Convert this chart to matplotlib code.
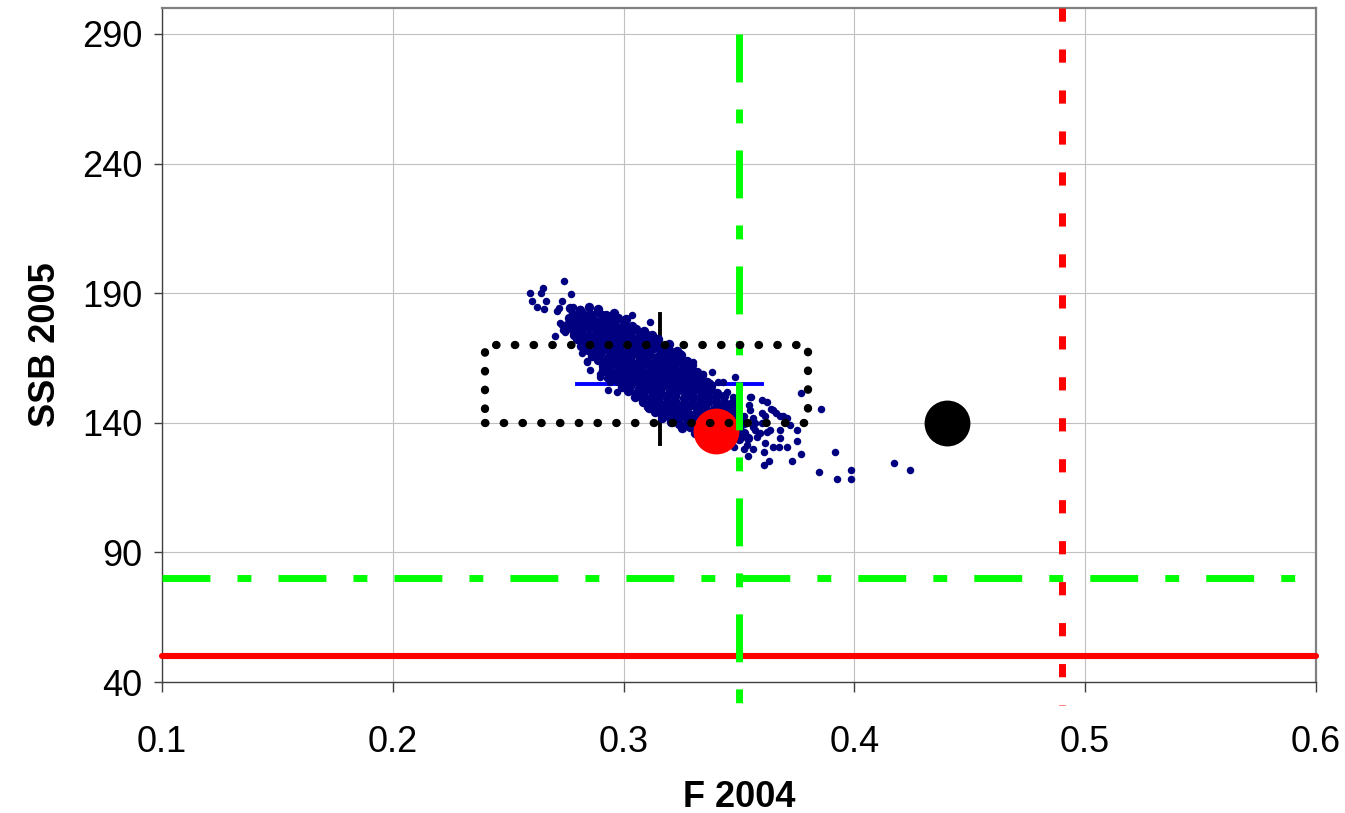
import matplotlib
matplotlib.use("Agg")
import matplotlib.pyplot as plt

plt.rcParams['font.family'] = ['Liberation Sans', 'DejaVu Sans']

# reference points / limits
blim = 50
bpa = 80
fpa = 0.35
flim = 0.49

# box (dotted) limits
box_f = [0.24, 0.38]
box_ssb = [140, 170]

# central estimates
median_f = 0.316
median_ssb = 155
f_range = [0.28, 0.36]
ssb_range = [132, 182]

assess_f, assess_ssb = 0.34, 137      # red dot
prev_f, prev_ssb = 0.44, 140          # black dot

x_ticks = [0.1, 0.2, 0.3, 0.4, 0.5, 0.6]
y_ticks = [40, 90, 140, 190, 240, 290]

# bootstrap cloud (F 2004, SSB 2005)
# scattered points round the edge
boot_tail = [
    (0.2742, 194.5), (0.2594, 190.2), (0.2650, 191.8), (0.2642, 190.2), (0.2772, 189.5),
    (0.2603, 186.8), (0.2664, 186.8), (0.2625, 184.8), (0.2655, 184.0), (0.2733, 186.8),
    (0.2720, 184.4), (0.2711, 183.3), (0.2781, 184.8), (0.2776, 182.5), (0.2811, 183.7),
    (0.2733, 177.9), (0.2703, 173.3), (0.2746, 174.9), (0.2780, 181.4), (0.2824, 182.0),
    (0.2724, 178.3), (0.2737, 175.6), (0.2820, 167.1), (0.2841, 164.0), (0.2854, 160.2),
    (0.2898, 157.5), (0.2919, 159.4), (0.2906, 182.1), (0.2958, 179.4), (0.3037, 181.7),
    (0.3028, 176.7), (0.3114, 178.7), (0.3093, 172.5), (0.3136, 171.7), (0.3166, 164.8),
    (0.2976, 174.8), (0.3227, 163.7), (0.3227, 167.5), (0.2906, 160.2), (0.2928, 157.1),
    (0.2941, 155.6), (0.2841, 163.3), (0.2898, 159.0), (0.2932, 152.5), (0.2971, 151.7),
    (0.3080, 148.6), (0.3101, 145.9), (0.3149, 144.8), (0.3158, 146.7), (0.3201, 142.9),
    (0.3214, 142.1), (0.3244, 167.1), (0.3301, 163.3), (0.3344, 159.0), (0.3383, 159.4),
    (0.3374, 155.2), (0.3409, 155.6), (0.3431, 155.6), (0.3483, 157.5), (0.3396, 151.7),
    (0.3448, 151.7), (0.3474, 149.8), (0.3491, 148.6),
    (0.3548, 149.8), (0.3600, 148.6), (0.3548, 144.8), (0.3600, 143.6), (0.3647, 144.8), (0.3678, 142.8),
    (0.3699, 141.7), (0.3721, 139.0), (0.3751, 137.1), (0.3678, 137.1), (0.3634, 137.1), (0.3561, 138.2),
    (0.3591, 135.9), (0.3530, 134.8), (0.3769, 151.3), (0.3855, 145.2), (0.3552, 149.8), (0.3621, 147.9),
    (0.3543, 146.7), (0.3639, 145.5), (0.3660, 143.6), (0.3691, 142.8), (0.3522, 142.8), (0.3561, 142.0),
    (0.3613, 142.5), (0.3708, 141.7), (0.3569, 139.8), (0.3600, 139.8), (0.3569, 137.1), (0.3621, 136.3),
    (0.3578, 134.4), (0.3613, 132.1), (0.3647, 130.5), (0.3678, 134.0), (0.3708, 130.5), (0.3673, 130.5),
    (0.3751, 132.8), (0.3769, 127.8), (0.3522, 129.8), (0.3561, 129.8), (0.3608, 128.6), (0.3730, 125.1),
    (0.3630, 125.1), (0.3608, 123.6), (0.3916, 128.6), (0.3846, 120.9), (0.3985, 121.7), (0.3925, 118.2),
    (0.3985, 118.2), (0.4172, 124.4), (0.4241, 121.7), (0.3535, 131.5), (0.3540, 127.0), (0.3480, 130.5),
]

# the dense band
boot_core = [
    (0.2770, 184.4), (0.2810, 183.6), (0.2850, 184.8), (0.2890, 183.9),
    (0.2785, 181.7), (0.2820, 182.4), (0.2855, 181.9), (0.2890, 182.6), (0.2925, 181.5), (0.2960, 182.2),
    (0.2765, 180.3), (0.2800, 179.6), (0.2835, 180.5), (0.2870, 179.8), (0.2905, 180.2), (0.2940, 179.5),
    (0.2975, 180.6), (0.3010, 179.9),
    (0.2755, 177.8), (0.2790, 178.4), (0.2825, 177.6), (0.2860, 178.3), (0.2895, 177.9), (0.2930, 178.5),
    (0.2965, 177.7), (0.3000, 178.2), (0.3035, 177.5),
    (0.2775, 176.2), (0.2810, 175.7), (0.2845, 176.4), (0.2880, 175.9), (0.2915, 176.1), (0.2950, 175.6),
    (0.2985, 176.3), (0.3020, 175.8), (0.3055, 176.0), (0.3090, 175.5),
    (0.2785, 173.8), (0.2820, 174.3), (0.2855, 173.6), (0.2890, 174.2), (0.2925, 173.9), (0.2960, 174.4),
    (0.2995, 173.7), (0.3030, 174.1), (0.3065, 173.5), (0.3100, 174.0), (0.3125, 173.8),
    (0.2800, 172.2), (0.2835, 171.7), (0.2870, 172.4), (0.2905, 171.8), (0.2940, 172.1), (0.2975, 171.6),
    (0.3010, 172.3), (0.3045, 171.9), (0.3080, 172.0), (0.3115, 171.5), (0.3150, 172.2),
    (0.2815, 169.8), (0.2850, 170.3), (0.2885, 169.6), (0.2920, 170.2), (0.2955, 169.9), (0.2990, 170.4),
    (0.3025, 169.7), (0.3060, 170.1), (0.3095, 169.5), (0.3130, 170.0), (0.3165, 169.8), (0.3195, 170.3),
    (0.2845, 168.1), (0.2880, 167.6), (0.2915, 168.3), (0.2950, 167.8), (0.2985, 168.0), (0.3020, 167.5),
    (0.3055, 168.2), (0.3090, 167.7), (0.3125, 168.4), (0.3160, 167.9), (0.3195, 168.1), (0.3230, 167.6),
    (0.2865, 165.8), (0.2900, 166.3), (0.2935, 165.6), (0.2970, 166.1), (0.3005, 165.9), (0.3040, 166.4),
    (0.3075, 165.7), (0.3110, 166.2), (0.3145, 165.5), (0.3180, 166.0), (0.3215, 165.8), (0.3250, 166.3),
    (0.2890, 164.2), (0.2925, 163.7), (0.2960, 164.1), (0.2995, 163.6), (0.3030, 164.3), (0.3065, 163.8),
    (0.3100, 164.0), (0.3135, 163.5), (0.3170, 164.2), (0.3205, 163.9), (0.3240, 164.1), (0.3275, 163.7),
    (0.2910, 161.8), (0.2945, 162.2), (0.2980, 161.6), (0.3015, 162.1), (0.3050, 161.9), (0.3085, 162.3),
    (0.3120, 161.7), (0.3155, 162.0), (0.3190, 161.5), (0.3225, 162.2), (0.3260, 161.8), (0.3295, 162.1),
    (0.2935, 160.1), (0.2970, 159.6), (0.3005, 160.3), (0.3040, 159.8), (0.3075, 160.0), (0.3110, 159.5),
    (0.3145, 160.2), (0.3180, 159.7), (0.3215, 160.4), (0.3250, 159.9), (0.3285, 160.1), (0.3320, 159.6),
    (0.2955, 157.8), (0.2990, 158.3), (0.3025, 157.6), (0.3060, 158.1), (0.3095, 157.9), (0.3130, 158.4),
    (0.3165, 157.7), (0.3200, 158.2), (0.3235, 157.5), (0.3270, 158.0), (0.3305, 157.8), (0.3340, 158.3),
    (0.2975, 156.2), (0.3010, 155.7), (0.3045, 156.1), (0.3080, 155.6), (0.3115, 156.3), (0.3150, 155.8),
    (0.3185, 156.0), (0.3220, 155.5), (0.3255, 156.2), (0.3290, 155.9), (0.3325, 156.1), (0.3360, 155.7),
    (0.2995, 153.8), (0.3030, 154.2), (0.3065, 153.6), (0.3100, 154.1), (0.3135, 153.9), (0.3170, 154.3),
    (0.3205, 153.7), (0.3240, 154.0), (0.3275, 153.5), (0.3310, 154.2), (0.3345, 153.8), (0.3380, 154.1),
    (0.3020, 152.1), (0.3055, 151.6), (0.3090, 152.3), (0.3125, 151.8), (0.3160, 152.0), (0.3195, 151.5),
    (0.3230, 152.2), (0.3265, 151.7), (0.3300, 152.4), (0.3335, 151.9), (0.3370, 152.1), (0.3405, 151.6),
    (0.3050, 149.8), (0.3085, 150.3), (0.3120, 149.6), (0.3155, 150.1), (0.3190, 149.9), (0.3225, 150.4),
    (0.3260, 149.7), (0.3295, 150.2), (0.3330, 149.5), (0.3365, 150.0), (0.3400, 149.8), (0.3435, 150.3),
    (0.3085, 148.2), (0.3120, 147.7), (0.3155, 148.1), (0.3190, 147.6), (0.3225, 148.3), (0.3260, 147.8),
    (0.3295, 148.0), (0.3330, 147.5), (0.3365, 148.2), (0.3400, 147.9), (0.3435, 148.1), (0.3470, 147.7),
    (0.3110, 145.8), (0.3145, 146.2), (0.3180, 145.6), (0.3215, 146.1), (0.3250, 145.9), (0.3285, 146.3),
    (0.3320, 145.7), (0.3355, 146.0), (0.3390, 145.5), (0.3425, 146.2), (0.3460, 145.8), (0.3490, 146.1),
    (0.3135, 144.1), (0.3170, 143.6), (0.3205, 144.3), (0.3240, 143.8), (0.3275, 144.0), (0.3310, 143.5),
    (0.3345, 144.2), (0.3380, 143.7), (0.3415, 144.4), (0.3450, 143.9), (0.3485, 144.1),
    (0.3165, 141.8), (0.3200, 142.3), (0.3235, 141.6), (0.3270, 142.1), (0.3305, 141.9), (0.3340, 142.4),
    (0.3375, 141.7), (0.3410, 142.2), (0.3445, 141.5), (0.3480, 142.0), (0.3510, 141.8),
    (0.3205, 140.2), (0.3240, 139.7), (0.3275, 140.1), (0.3310, 139.6), (0.3345, 140.3), (0.3380, 139.8),
    (0.3415, 140.0), (0.3450, 139.5), (0.3485, 140.2), (0.3520, 139.9),
    (0.3255, 137.8), (0.3290, 138.2), (0.3325, 137.6), (0.3360, 138.1), (0.3395, 137.9), (0.3430, 138.3),
    (0.3465, 137.7), (0.3500, 138.0),
    (0.3310, 136.1), (0.3345, 135.6), (0.3380, 136.3), (0.3415, 135.8), (0.3450, 136.0), (0.3485, 135.5),
    (0.3520, 136.2),
    (0.3360, 133.8), (0.3395, 134.2), (0.3430, 133.6), (0.3465, 134.1), (0.3500, 133.9), (0.3540, 134.3),
]

tail_f = [p[0] for p in boot_tail]
tail_ssb = [p[1] for p in boot_tail]
core_f = [p[0] for p in boot_core]
core_ssb = [p[1] for p in boot_core]

fig = plt.figure(figsize=(13.45, 8.13), dpi=100)
ax = fig.add_axes([0.1204, 0.1611, 0.8580, 0.8291])

red = '#FF0000'
green = '#00FF00'
navy = '#000080'
dashdot = (0, (6.9, 3.9, 2.0, 3.9))

# interval lines (behind the cloud)
ax.plot(f_range, [median_ssb, median_ssb], color='#0000FF', lw=2.8, zorder=2)
ax.plot([median_f, median_f], ssb_range, color='black', lw=2.8, zorder=2)

ax.plot(core_f, core_ssb, 'o', color=navy, markersize=6.8, markeredgewidth=0, zorder=3)
ax.plot(tail_f, tail_ssb, 'o', color=navy, markersize=5.4, markeredgewidth=0, zorder=3)

ax.plot(assess_f, assess_ssb, 'o', color=red, markersize=33, markeredgewidth=0, zorder=4)
ax.plot(prev_f, prev_ssb, 'o', color='black', markersize=33, markeredgewidth=0, zorder=4)

# reference points
ax.plot([0.1, 0.6], [blim, blim], color=red, lw=4.4, solid_capstyle='round', clip_on=False, zorder=5)
ax.plot([0.1, 0.6], [bpa, bpa], color=green, lw=5, linestyle=dashdot, zorder=5)
ax.plot([fpa, fpa], [290, 31], color=green, lw=5, linestyle=dashdot, clip_on=False, zorder=5)
ax.plot([flim, flim], [300, 31], color=red, lw=5, linestyle=(0, (1.9, 4.0)), clip_on=False, zorder=5)

# dotted box
bx = [box_f[0], box_f[1], box_f[1], box_f[0], box_f[0]]
by = [box_ssb[0], box_ssb[0], box_ssb[1], box_ssb[1], box_ssb[0]]
ax.plot(bx, by, color='black', lw=6, linestyle=(0, (0.05, 2.2)), dash_capstyle='round', zorder=6)

ax.set_xlim(0.1, 0.6)
ax.set_ylim(40, 300)
ax.set_xticks(x_ticks)
ax.set_xticklabels([f'{v:.1f}' for v in x_ticks])
ax.set_yticks(y_ticks)
ax.grid(True, color='#C0C0C0', lw=0.8)
ax.set_axisbelow(True)

for s in ['top', 'right']:
    ax.spines[s].set_color('#808080')
    ax.spines[s].set_linewidth(1.6)
for s in ['left', 'bottom']:
    ax.spines[s].set_color('#404040')
    ax.spines[s].set_linewidth(1.0)

ax.tick_params(axis='x', direction='out', length=7, width=1, color='#404040', pad=24, labelsize=26)
ax.tick_params(axis='y', direction='out', length=6, width=1, color='#404040', pad=8, labelsize=26)

ax.set_xlabel('F 2004', fontsize=26, fontweight='bold', labelpad=14)
ax.set_ylabel('SSB 2005', fontsize=26, fontweight='bold', labelpad=14)

fig.savefig('out.png', dpi=100)
